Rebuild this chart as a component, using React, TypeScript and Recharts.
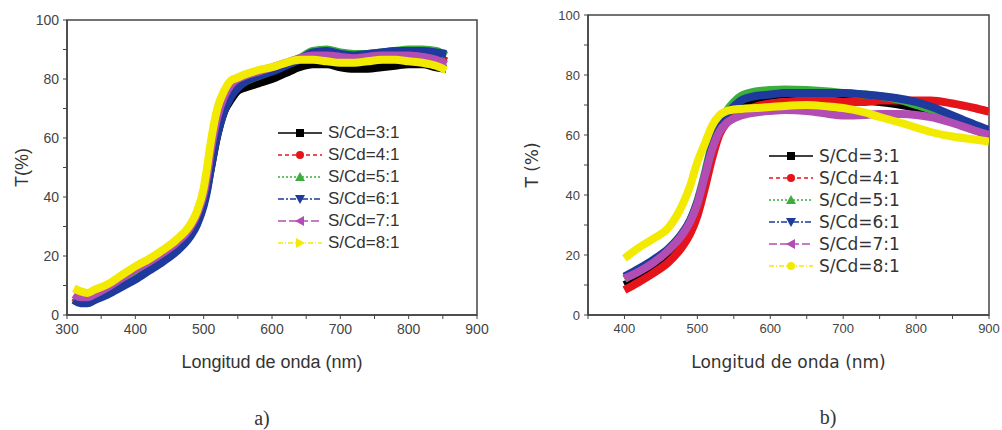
import { LineChart, Line, XAxis, YAxis, Legend, ReferenceArea } from "recharts";

// legend names and data keys (same six samples in both panels)
const ratioNames = ["S/Cd=3:1", "S/Cd=4:1", "S/Cd=5:1", "S/Cd=6:1", "S/Cd=7:1", "S/Cd=8:1"];
const ratioKeys = ["r3", "r4", "r5", "r6", "r7", "r8"];

// panel a) wavelength (nm) and transmittance T (%)
const waveA = [310, 320, 330, 340, 360, 380, 400, 420, 440, 460, 480, 490, 500, 505, 510, 520, 530, 540, 550, 560, 580, 600, 620, 640, 660, 680, 700, 720, 740, 760, 780, 800, 820, 840, 855];
const a3 = [6, 5, 5, 6, 8, 11, 13, 16, 19, 22, 27, 31, 38, 43, 49, 61, 69, 73, 76, 77, 78.5, 80, 82, 84, 85, 85, 84, 83.5, 83.5, 84, 84.5, 85, 85, 84, 83.5];
const a4 = [6, 5, 5, 6, 8.5, 11.5, 14, 16.5, 19.5, 23, 28, 32, 39, 44, 51, 63, 71, 76, 79, 80.5, 82, 83.5, 85, 86.5, 88, 88.5, 87.5, 87, 87.5, 88, 88.5, 88.5, 88, 87.5, 86];
const a5 = [5.5, 4.5, 4.5, 5.5, 7.5, 10, 12.5, 15.5, 18.5, 22, 27, 31, 38, 43, 50, 62, 70, 75, 77.5, 79, 81, 83, 85, 87, 89.5, 90, 89, 88.5, 88.5, 89, 89.5, 90, 90, 89.5, 88];
const a6 = [5, 4, 4, 5, 7, 9.5, 12, 15, 18, 21.5, 26.5, 30.5, 37, 42, 49, 61, 69, 74, 77, 79, 81, 82.5, 84.5, 86.5, 89, 89.5, 88.5, 88, 88.5, 89, 89.5, 89.5, 89.5, 89, 88.5];
const a7 = [7, 6, 6, 7, 9.5, 12.5, 15.5, 18, 21, 24.5, 29.5, 34, 41, 47, 55, 67, 74, 78, 80, 81, 82.5, 84, 85.5, 87, 88, 88, 87.5, 87, 87.5, 88, 88, 88, 87.5, 86.5, 85];
const a8 = [9, 8, 7.5, 8.5, 10.5, 13.5, 16.5, 19, 22, 25.5, 30.5, 35, 43, 50, 58, 70, 76, 79.5, 80.5, 81.5, 83, 84, 85.5, 86.5, 86.5, 86, 85.5, 85.5, 86, 86.5, 86.5, 86, 85.5, 84.5, 83];

// panel b)
const waveB = [400, 420, 440, 460, 480, 490, 500, 510, 520, 530, 540, 550, 560, 580, 600, 620, 650, 680, 700, 730, 750, 780, 800, 820, 850, 880, 900];
const b3 = [10, 12.5, 15.5, 19.5, 25, 29, 35, 44, 54, 61, 65, 68, 70, 72, 73, 73.5, 73, 72.5, 72, 71.5, 71, 70, 69, 67.5, 65, 62, 60];
const b4 = [8.3, 11, 14, 17.5, 23, 27, 33, 42, 52, 60, 64, 66, 67.5, 69.5, 70.5, 71, 71.5, 71.5, 71, 71, 71.5, 71.5, 71.5, 71.5, 70.5, 69, 67.8];
const b5 = [12, 15, 18, 22, 27.5, 31.5, 38, 47, 57, 64, 68, 71, 73, 74.5, 75, 75.2, 75, 74.5, 74, 73.5, 73, 71.5, 70, 68.5, 66, 63, 61];
const b6 = [12.8, 15.5, 18.5, 22, 27.5, 31.5, 37.5, 46, 56, 63, 67, 69.5, 71.5, 73, 73.5, 74, 74, 74, 74, 73.5, 73, 72, 71, 69.5, 66.5, 63.5, 61.7];
const b7 = [12.2, 14.5, 17.5, 21.5, 27, 31, 37, 46, 55, 61, 64, 65.5, 66.5, 67.5, 68, 68.3, 68, 67, 66.5, 66.7, 67, 67, 66.7, 66, 64, 61.5, 60];
const b8 = [18.9, 22.5, 25.5, 29, 37, 43, 51, 57, 63, 66.5, 68, 68.5, 68.7, 69, 69.3, 69.7, 70, 69.5, 69, 67.5, 66, 64, 62.5, 61, 59.5, 58.5, 57.8];

// ticks (50 nm / 10 % minor ticks get blank labels)
const xTicksA = [300, 350, 400, 450, 500, 550, 600, 650, 700, 750, 800, 850, 900];
const xTicksB = [350, 400, 450, 500, 550, 600, 650, 700, 750, 800, 850, 900];
const yTicks = [0, 10, 20, 30, 40, 50, 60, 70, 80, 90, 100];

function buildRows(wave: number[], cols: number[][]) {
  return wave.map((wl, i) => {
    const row: Record<string, number> = { wl };
    ratioKeys.forEach((k, j) => (row[k] = cols[j][i]));
    return row;
  });
}

const dataA = buildRows(waveA, [a3, a4, a5, a6, a7, a8]);
const dataB = buildRows(waveB, [b3, b4, b5, b6, b7, b8]);

const STYLE: Record<string, { color: string; dash?: string; marker: string }> = {
  r3: { color: "#000000", marker: "square" },
  r4: { color: "#e5141b", dash: "4 3", marker: "circle" },
  r5: { color: "#3cae3c", dash: "2 2", marker: "up" },
  r6: { color: "#1d3a9c", dash: "6 2 2 2", marker: "down" },
  r7: { color: "#b24db4", dash: "8 3", marker: "left" },
  r8: { color: "#f2ea00", dash: "5 2 1 2", marker: "right" },
};

function Marker({ shape, cx, cy, color }: { shape: string; cx: number; cy: number; color: string }) {
  const s = 4;
  if (shape === "square") return <rect x={cx - s} y={cy - s} width={2 * s} height={2 * s} fill={color} />;
  if (shape === "circle") return <circle cx={cx} cy={cy} r={s} fill={color} />;
  const pts: Record<string, string> = {
    up: `${cx},${cy - s - 1} ${cx - s - 1},${cy + s} ${cx + s + 1},${cy + s}`,
    down: `${cx},${cy + s + 1} ${cx - s - 1},${cy - s} ${cx + s + 1},${cy - s}`,
    left: `${cx - s - 1},${cy} ${cx + s},${cy - s - 1} ${cx + s},${cy + s + 1}`,
    right: `${cx + s + 1},${cy} ${cx - s},${cy - s - 1} ${cx - s},${cy + s + 1}`,
  };
  return <polygon points={pts[shape]} fill={color} />;
}

function LegendBox({ payload, font, size, markers }: any) {
  return (
    <div style={{ fontFamily: font, fontSize: size, color: "#333" }}>
      {(payload ?? []).map((entry: any) => {
        const st = STYLE[entry.dataKey];
        const shape = markers?.[entry.dataKey] ?? st.marker;
        return (
          <div key={entry.dataKey} style={{ display: "flex", alignItems: "center", height: 22 }}>
            <svg width={46} height={22}>
              <line x1={1} x2={45} y1={11} y2={11} stroke={st.color} strokeWidth={1.5} strokeDasharray={st.dash} />
              <Marker shape={shape} cx={23} cy={11} color={st.color} />
            </svg>
            <span style={{ marginLeft: 5, lineHeight: "22px", whiteSpace: "nowrap" }}>{entry.value}</span>
          </div>
        );
      })}
    </div>
  );
}

interface PanelProps {
  data: Record<string, number>[];
  width: number;
  xDomain: [number, number];
  xTicks: number[];
  top: number;
  right: number;
  yWidth: number;
  yTitle: string;
  yTitleX: number;
  font: string;
  tickSize: number;
  titleSize: number;
  legendSize: number;
  legendLeft: number;
  legendTop: number;
  markers?: Record<string, string>;
}

function Panel(p: PanelProps) {
  const tickStyle = { fill: "#444", fontSize: p.tickSize, fontFamily: "Liberation Sans, Arial, sans-serif" };
  return (
    <LineChart width={p.width} height={380} data={p.data} margin={{ top: p.top, right: p.right, left: 0, bottom: 35 }}>
      <ReferenceArea x1={p.xDomain[0]} x2={p.xDomain[1]} y1={0} y2={100} fill="none" stroke="#444" strokeWidth={1.5} />
      <XAxis
        dataKey="wl"
        type="number"
        domain={p.xDomain}
        ticks={p.xTicks}
        interval={0}
        allowDataOverflow
        height={30}
        tickSize={4}
        tickMargin={5}
        tick={tickStyle}
        tickFormatter={(v: number) => (v % 100 === 0 ? String(v) : "")}
        axisLine={{ stroke: "#444", strokeWidth: 1.5 }}
        tickLine={{ stroke: "#444" }}
        label={{
          content: (lp: any) => {
            const vb = lp.viewBox;
            return (
              <text x={vb.x + vb.width / 2} y={vb.y + 47} textAnchor="middle" dominantBaseline="central"
                fill="#333" fontSize={p.titleSize} fontFamily={p.font}>
                Longitud de onda (nm)
              </text>
            );
          },
        }}
      />
      <YAxis
        type="number"
        domain={[0, 100]}
        ticks={yTicks}
        interval={0}
        width={p.yWidth}
        tickSize={4}
        tickMargin={4}
        tick={tickStyle}
        tickFormatter={(v: number) => (v % 20 === 0 ? String(v) : "")}
        axisLine={{ stroke: "#444", strokeWidth: 1.5 }}
        tickLine={{ stroke: "#444" }}
        label={{
          content: (lp: any) => {
            const vb = lp.viewBox;
            const cx = vb.x + p.yTitleX;
            const cy = vb.y + vb.height / 2;
            return (
              <text x={cx} y={cy} transform={`rotate(-90 ${cx} ${cy})`} textAnchor="middle" dominantBaseline="central"
                fill="#333" fontSize={p.titleSize} fontFamily={p.font}>
                {p.yTitle}
              </text>
            );
          },
        }}
      />
      <Legend
        layout="vertical"
        align="center"
        verticalAlign="middle"
        wrapperStyle={{ left: p.legendLeft, top: p.legendTop, width: 150 }}
        content={(lp: any) => <LegendBox payload={lp.payload} font={p.font} size={p.legendSize} markers={p.markers} />}
      />
      {ratioKeys.map((k, i) => (
        <Line
          key={k}
          dataKey={k}
          name={ratioNames[i]}
          type="monotone"
          stroke={STYLE[k].color}
          strokeWidth={8}
          strokeLinejoin="round"
          dot={false}
          activeDot={false}
          isAnimationActive={false}
        />
      ))}
    </LineChart>
  );
}

export default function App() {
  return (
    <div style={{ position: "absolute", left: 0, top: 0, width: 1002, height: 430, background: "#fff", overflow: "hidden" }}>
      <div style={{ position: "absolute", left: 0, top: 0 }}>
        <Panel
          data={dataA}
          width={500}
          xDomain={[300, 900]}
          xTicks={xTicksA}
          top={20}
          right={23}
          yWidth={67}
          yTitle="T(%)"
          yTitleX={22}
          font="Liberation Sans, Arial, sans-serif"
          tickSize={14}
          titleSize={18}
          legendSize={17}
          legendLeft={277}
          legendTop={122}
        />
      </div>
      <div style={{ position: "absolute", left: 500, top: 0 }}>
        <Panel
          data={dataB}
          width={502}
          xDomain={[350, 900]}
          xTicks={xTicksB}
          top={15}
          right={13}
          yWidth={88}
          yTitle="T (%)"
          yTitleX={32}
          font="DejaVu Sans, Verdana, sans-serif"
          tickSize={13}
          titleSize={17}
          legendSize={17}
          legendLeft={268}
          legendTop={145}
          markers={{ r8: "circle" }}
        />
      </div>
      <div style={{ position: "absolute", left: 232, top: 407, width: 60, textAlign: "center", fontFamily: "Liberation Serif, serif", fontSize: 20, color: "#333" }}>
        a)
      </div>
      <div style={{ position: "absolute", left: 798, top: 406, width: 60, textAlign: "center", fontFamily: "Liberation Serif, serif", fontSize: 20, color: "#333" }}>
        b)
      </div>
    </div>
  );
}
